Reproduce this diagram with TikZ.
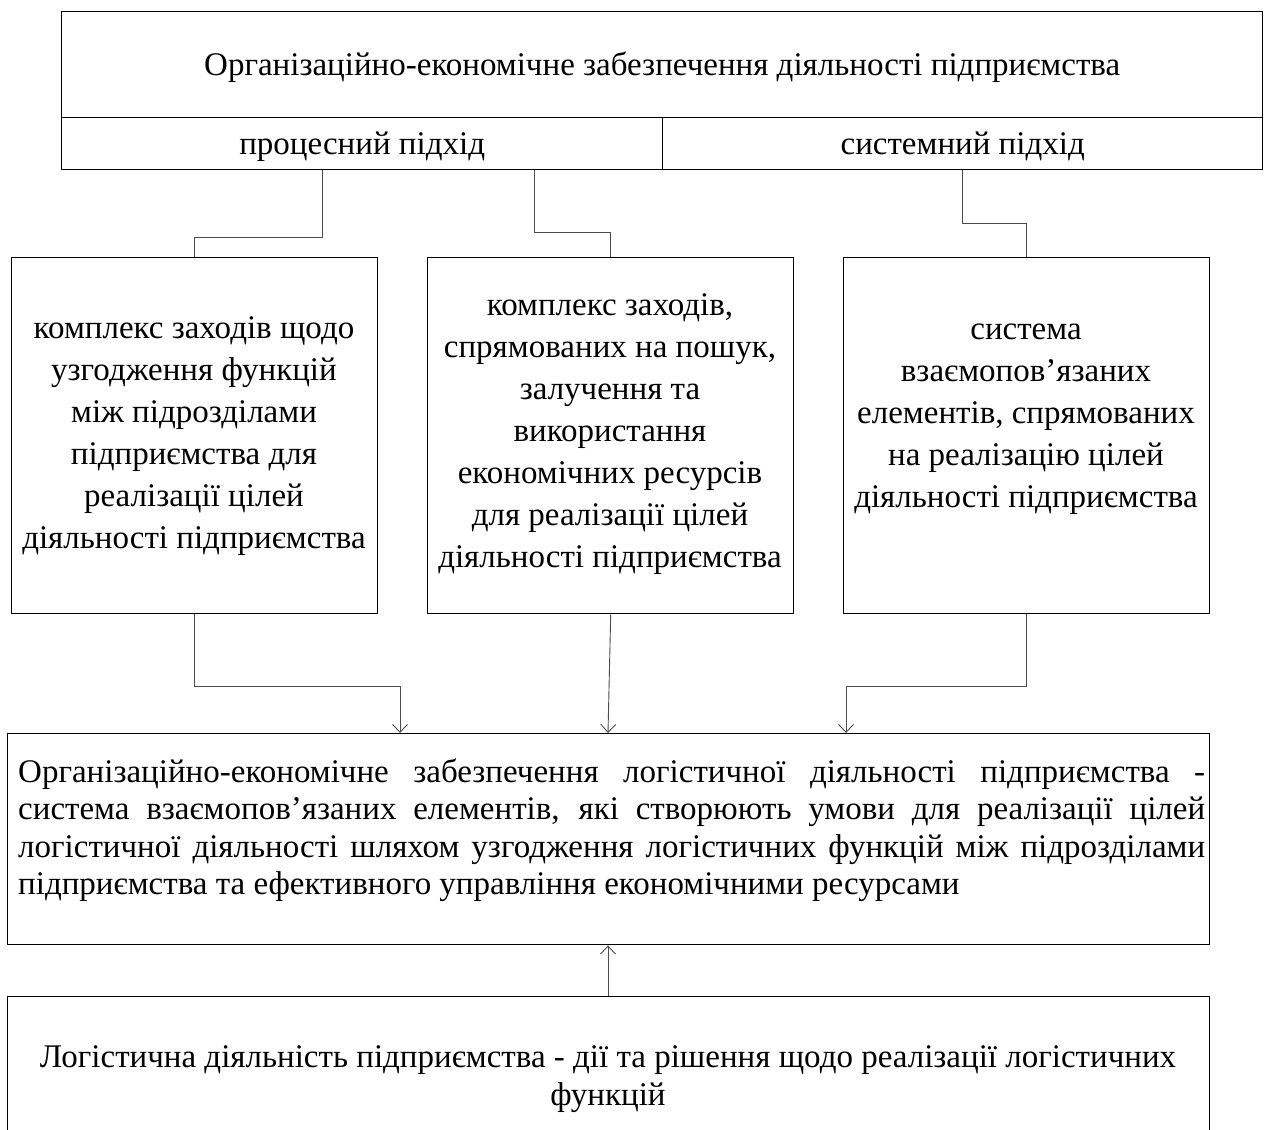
\documentclass[tikz,border=0pt]{standalone}
\usepackage{fontspec}
\setmainfont{Liberation Serif}
\usetikzlibrary{arrows.meta}
\begin{document}
\begin{tikzpicture}[x=1pt,y=-1pt,
  box/.style={draw=black, line width=1.4pt, inner sep=0pt, anchor=north west},
  link/.style={draw=black!70, line width=0.9pt},
  arr/.style={link, -{Straight Barb[length=8pt,width=15pt,line width=0.9pt]}},
  txt/.style={font=\fontsize{33}{37.5}\selectfont, inner sep=0pt, align=center},
  coltxt/.style={txt, font=\fontsize{33}{42}\selectfont},
]
\useasboundingbox (0,0) rectangle (1268,1129);
\fill[white] (0,0) rectangle (1268,1129);
\clip (0,0) rectangle (1268,1129);

% header with its two approaches
\node[box, minimum width=1201pt, minimum height=106pt] (head) at (61,11) {};
\node[box, minimum width=601pt, minimum height=52pt] (proc) at (61,117) {};
\node[box, minimum width=600pt, minimum height=52pt] (sys) at (662,117) {};
\node[txt] (headtxt) at ([yshift=-3pt]head.center) {Організаційно-економічне забезпечення діяльності підприємства};
\node[txt] (proctxt) at ([yshift=-3pt]proc.center) {процесний підхід};
\node[txt] (systxt) at ([yshift=-3pt]sys.center) {системний підхід};

% three definition boxes
\node[box, minimum width=366pt, minimum height=356pt] (b1) at (11,257) {};
\node[box, minimum width=366pt, minimum height=356pt] (b2) at (427,257) {};
\node[box, minimum width=366pt, minimum height=356pt] (b3) at (843,257) {};
\node[coltxt] (t1) at (194,436) {комплекс заходів щодо\\узгодження функцій\\між підрозділами\\підприємства для\\реалізації цілей\\діяльності підприємства};
\node[coltxt] (t2) at (610,434) {комплекс заходів,\\спрямованих на пошук,\\залучення та\\використання\\економічних ресурсів\\для реалізації цілей\\діяльності підприємства};
\node[coltxt] (t3) at (1026,419) {система\\взаємопов’язаних\\елементів, спрямованих\\на реалізацію цілей\\діяльності підприємства};

% resulting definition
\node[box, minimum width=1202pt, minimum height=211pt] (big) at (7,733) {};
\node[txt, align=left, anchor=west] (bigtxt) at (18,830) {%
\makebox[1187pt][s]{Організаційно-економічне забезпечення логістичної діяльності підприємства -}\\
\makebox[1187pt][s]{система взаємопов’язаних елементів, які створюють умови для реалізації цілей}\\
\makebox[1187pt][s]{логістичної діяльності шляхом узгодження логістичних функцій між підрозділами}\\
підприємства та ефективного управління економічними ресурсами};

% logistics activity
\node[box, minimum width=1202pt, minimum height=140pt] (bot) at (7,996) {};
\node[txt] (bottxt) at (608,1079) {Логістична діяльність підприємства - дії та рішення щодо реалізації логістичних\\функцій};

% connectors from the approaches to the boxes
\draw[link] ([xshift=261pt]proc.south west) -- ++(0,67) -| (b1.north);
\draw[link] ([xshift=473pt]proc.south west) -- ++(0,62) -| (b2.north);
\draw[link] (sys.south) -- ++(0,53) -| (b3.north);

% arrows into the resulting definition
\draw[arr] (b1.south) -- ++(0,72) -| ([xshift=393pt]big.north west);
\draw[arr] (b2.south) -- ([xshift=601pt]big.north west);
\draw[arr] (b3.south) -- ++(0,72) -| ([xshift=839pt]big.north west);
\draw[arr] ([xshift=601pt]bot.north west) -- ([xshift=601pt]big.south west);
\end{tikzpicture}
\end{document}
